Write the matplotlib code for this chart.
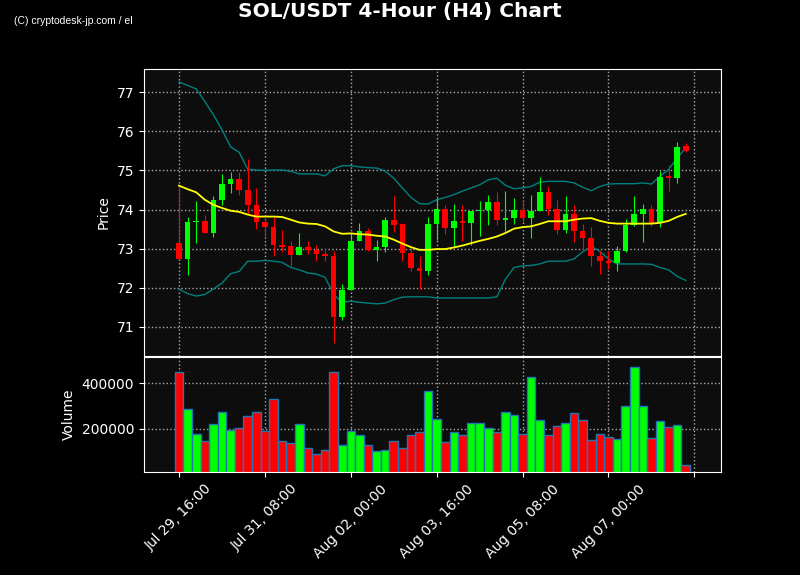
import matplotlib
matplotlib.use("Agg")
import matplotlib.pyplot as plt
import numpy as np
import pandas as pd

# 4h candles
opens = [73.15, 72.74, 73.68, 73.70, 73.41, 74.24, 74.65, 74.78, 74.51, 74.12,
         73.67, 73.56, 73.09, 73.07, 72.85, 73.03, 72.97, 72.87, 72.80, 71.26,
         71.95, 73.19, 73.45, 72.97, 73.04, 73.73, 73.62, 72.90, 72.51, 72.43,
         73.63, 74.01, 73.54, 73.71, 73.66, 73.96, 74.00, 74.19, 73.74, 73.78,
         73.99, 73.78, 73.95, 74.46, 74.02, 73.48, 73.89, 73.44, 73.28, 72.80,
         72.69, 72.63, 72.94, 73.61, 73.89, 74.01, 73.65, 74.86, 74.80, 75.62]
highs = [74.57, 73.80, 74.21, 73.85, 74.34, 74.91, 74.97, 74.97, 75.29, 74.54,
         73.78, 73.81, 73.47, 73.20, 73.40, 73.20, 73.09, 73.02, 72.93, 72.10,
         73.37, 73.65, 73.52, 73.21, 73.82, 74.34, 73.66, 73.02, 72.81, 73.82,
         74.29, 74.12, 74.14, 74.11, 73.96, 74.21, 74.38, 74.44, 74.48, 74.29,
         74.21, 74.38, 74.82, 74.59, 74.25, 74.34, 74.11, 73.63, 73.55, 72.95,
         72.95, 73.06, 73.77, 74.34, 74.14, 74.11, 74.98, 75.13, 75.72, 75.69]
lows = [72.73, 72.32, 73.14, 73.41, 73.29, 74.12, 74.41, 74.38, 73.89, 73.50,
        73.31, 72.80, 72.91, 72.55, 72.85, 72.86, 72.68, 72.69, 70.58, 71.17,
        71.95, 73.19, 72.93, 72.68, 72.91, 73.43, 72.68, 72.42, 71.97, 72.32,
        73.21, 73.37, 73.04, 73.19, 73.09, 73.32, 73.60, 73.60, 73.44, 73.63,
        73.68, 73.27, 73.95, 73.87, 73.37, 73.40, 73.17, 72.93, 72.55, 72.35,
        72.48, 72.42, 72.91, 73.57, 73.17, 73.57, 73.56, 74.48, 74.68, 75.46]
closes = [72.74, 73.68, 73.70, 73.41, 74.24, 74.65, 74.78, 74.51, 74.12, 73.67,
          73.56, 73.09, 73.05, 72.85, 73.03, 72.97, 72.87, 72.80, 71.26, 71.95,
          73.19, 73.45, 72.97, 73.04, 73.73, 73.61, 72.90, 72.51, 72.43, 73.63,
          74.01, 73.54, 73.71, 73.66, 73.96, 74.00, 74.19, 73.74, 73.78, 73.99,
          73.78, 73.95, 74.46, 74.02, 73.48, 73.89, 73.44, 73.28, 72.80, 72.69,
          72.63, 72.94, 73.61, 73.89, 74.01, 73.65, 74.82, 74.80, 75.60, 75.49]
volumes = [450000, 287000, 178000, 146000, 222000, 274000, 196000, 204000, 257000, 274000,
           190000, 330000, 146000, 139000, 222000, 117000, 91000, 109000, 448000, 130000,
           190000, 174000, 130000, 103000, 107000, 146000, 117000, 174000, 187000, 365000,
           243000, 143000, 187000, 174000, 226000, 226000, 204000, 187000, 274000, 261000,
           178000, 426000, 239000, 174000, 214000, 226000, 270000, 239000, 152000, 178000,
           165000, 157000, 300000, 470000, 300000, 161000, 235000, 209000, 217000, 43000]

# indicator lines (20-period SMA and bands)
sma = [74.61, 74.52, 74.44, 74.25, 74.12, 74.04, 73.97, 73.94, 73.87, 73.82,
       73.82, 73.82, 73.81, 73.74, 73.67, 73.64, 73.63, 73.57, 73.44, 73.38,
       73.39, 73.37, 73.36, 73.33, 73.31, 73.23, 73.13, 73.04, 72.97, 72.97,
       72.99, 72.99, 73.03, 73.08, 73.14, 73.20, 73.25, 73.31, 73.40, 73.51,
       73.55, 73.57, 73.63, 73.70, 73.70, 73.70, 73.74, 73.77, 73.78, 73.71,
       73.66, 73.64, 73.64, 73.64, 73.64, 73.64, 73.66, 73.71, 73.81, 73.89]
upper = [77.26, 77.17, 77.08, 76.76, 76.42, 76.04, 75.60, 75.46, 75.03, 75.01,
         75.00, 75.01, 75.01, 74.98, 74.91, 74.91, 74.91, 74.86, 75.04, 75.12,
         75.12, 75.09, 75.07, 75.06, 74.98, 74.80, 74.55, 74.31, 74.15, 74.14,
         74.25, 74.31, 74.38, 74.47, 74.55, 74.63, 74.76, 74.80, 74.62, 74.53,
         74.55, 74.59, 74.70, 74.72, 74.72, 74.72, 74.68, 74.57, 74.48, 74.59,
         74.65, 74.66, 74.66, 74.66, 74.68, 74.65, 74.85, 75.02, 75.32, 75.57]
lower = [71.97, 71.85, 71.79, 71.83, 71.97, 72.12, 72.36, 72.42, 72.68, 72.68,
         72.70, 72.68, 72.65, 72.52, 72.46, 72.38, 72.35, 72.27, 71.83, 71.63,
         71.66, 71.63, 71.61, 71.59, 71.61, 71.70, 71.76, 71.77, 71.77, 71.77,
         71.74, 71.74, 71.74, 71.74, 71.74, 71.74, 71.74, 71.77, 72.22, 72.52,
         72.56, 72.57, 72.61, 72.68, 72.68, 72.68, 72.74, 72.92, 73.06, 72.93,
         72.74, 72.61, 72.61, 72.61, 72.61, 72.60, 72.52, 72.46, 72.29, 72.19]

times = pd.date_range("2025-07-29 16:00", periods=len(closes), freq="4h")

o = np.array(opens)
c = np.array(closes)
x = np.arange(len(c))
up = c >= o
colors = np.where(up, "#00ff00", "#ff0000")

fig = plt.figure(figsize=(8, 5.75), dpi=100, facecolor="black")
ax = fig.add_axes([0.18, 0.381, 0.721, 0.499])
axv = fig.add_axes([0.18, 0.179, 0.721, 0.2], sharex=ax)

for a in (ax, axv):
    a.set_facecolor("#0d0d0d")
    for s in a.spines.values():
        s.set_color("white")
    a.tick_params(colors="white", labelsize=10)
    a.grid(True, color="#aaaaaa", linestyle=":", linewidth=1)
    a.set_axisbelow(True)

# candles
ax.vlines(x, lows, highs, colors=colors, linewidth=0.8, zorder=2)
body = np.maximum(np.abs(c - o), 0.02)
ax.bar(x, body, bottom=np.minimum(o, c), width=0.65, color=colors, zorder=3)

ax.plot(x, upper, color="#008080", linewidth=1, zorder=1)
ax.plot(x, lower, color="#008080", linewidth=1, zorder=1)
ax.plot(x, sma, color="yellow", linewidth=1.3, zorder=4)

ax.set_ylim(70.26, 77.59)
ax.set_ylabel("Price", color="white", fontsize=10)
plt.setp(ax.get_xticklabels(), visible=False)

# volume
axv.bar(x, volumes, width=1.0, color=colors, edgecolor="#1f77b4", linewidth=1)
axv.set_ylim(10500, 515000)
axv.set_yticks([200000, 400000])
axv.set_ylabel("Volume", color="white", fontsize=10)

ticks = np.arange(0, 61, 10)
labels = [times[i].strftime("%b %d, %H:%M") if i < len(times) else "" for i in ticks]
axv.set_xticks(ticks)
axv.set_xticklabels(labels, rotation=45, ha="center")
axv.set_xlim(-4.08, 63.08)

fig.suptitle("SOL/USDT 4-Hour (H4) Chart", color="white", fontsize=14.5,
             fontweight="bold", y=0.997)
fig.text(0.018, 0.963, "(C) cryptodesk-jp.com / el", color="white", fontsize=7.5,
         family="Liberation Sans", va="center")

fig.savefig("out.png", dpi=100, facecolor=fig.get_facecolor())
